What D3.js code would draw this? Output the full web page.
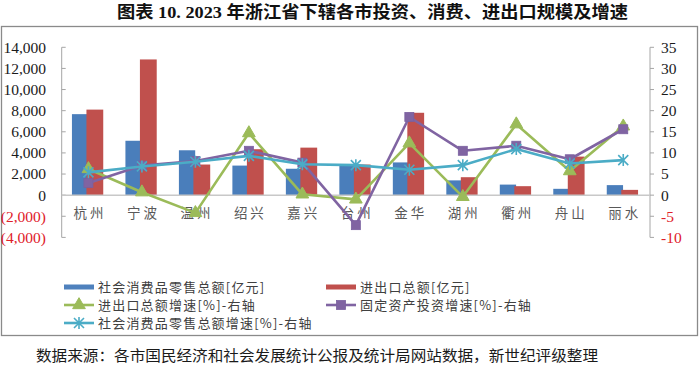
<!DOCTYPE html>
<html><head><meta charset="utf-8">
<script src="https://cdn.jsdelivr.net/npm/d3@7"></script>
<style>
html,body{margin:0;padding:0;background:#fff;}
svg{display:block;}
</style></head>
<body>
<svg id="c" width="700" height="368"></svg>
<script>
const categories = ["杭州","宁波","温州","绍兴","嘉兴","台州","金华","湖州","衢州","舟山","丽水"];
const retailSales = [7670, 5150, 4250, 2800, 2500, 2800, 3100, 1400, 1000, 600, 950];
const tradeTotal = [8100, 12850, 2900, 4350, 4500, 2900, 7800, 1700, 850, 3650, 500];
const tradeGrowth = [6.2, 0.7, -4.2, 14.7, 0.2, -1.0, 12.3, -0.4, 16.8, 5.7, 16.3];
const investGrowth = [2.9, 7.0, 8.1, 10.5, 7.7, -7.1, 18.5, 10.5, 11.7, 8.5, 15.6];
const retailGrowth = [5.4, 6.8, 7.9, 9.3, 7.3, 7.1, 6.0, 7.1, 10.9, 7.5, 8.3];
const leftTicks = [-4000,-2000,0,2000,4000,6000,8000,10000,12000,14000];
const rightTicks = [-10,-5,0,5,10,15,20,25,30,35];
const titleText = "图表 10. 2023 年浙江省下辖各市投资、消费、进出口规模及增速";
const sourceText = "数据来源：各市国民经济和社会发展统计公报及统计局网站数据，新世纪评级整理";
const legendItems = [
  {name:"社会消费品零售总额[亿元]", type:"bar", color:"#4F81BD"},
  {name:"进出口总额[亿元]", type:"bar", color:"#C0504D"},
  {name:"进出口总额增速[%]-右轴", type:"tri", color:"#9BBB59"},
  {name:"固定资产投资增速[%]-右轴", type:"sq", color:"#8064A2"},
  {name:"社会消费品零售总额增速[%]-右轴", type:"star", color:"#4BACC6"}
];

const svg = d3.select("#c");
const X0 = 61.7, X1 = 650, YT = 47.3, YB = 237.4;
const x = d3.scaleBand().domain(categories).range([X0, X1]).padding(0);
const yL = d3.scaleLinear().domain([-4000, 14000]).range([YB, YT]);
const yR = d3.scaleLinear().domain([-10, 35]).range([YB, YT]);
const serif = "'Liberation Serif','Noto Sans CJK SC',serif";
const cjk = "'Noto Sans CJK SC','Liberation Serif',sans-serif";

// Title
const title = svg.append("text").attr("x", 117).attr("y", 18)
  .attr("font-family", serif).attr("font-weight", "bold").attr("font-size", 17)
  .attr("fill", "#111").text(titleText);
{
  const w = title.node().getComputedTextLength();
  title.attr("textLength", 511).attr("lengthAdjust", "spacingAndGlyphs");
}

// Frame
svg.append("rect").attr("x", 1.5).attr("y", 26.5).attr("width", 696).attr("height", 309)
  .attr("fill", "none").attr("stroke", "#8a8a8a").attr("stroke-width", 1.3);

// Left axis
const gL = svg.append("g");
gL.append("line").attr("x1", X0).attr("x2", X0).attr("y1", YT).attr("y2", YB)
  .attr("stroke", "#a6a6a6").attr("stroke-width", 1);
gL.selectAll("line.t").data(leftTicks).join("line").attr("class","t")
  .attr("x1", X0).attr("x2", X0 + 4).attr("y1", d => yL(d)).attr("y2", d => yL(d))
  .attr("stroke", "#a6a6a6");
const fmtL = d => d < 0 ? "(" + d3.format(",")(-d) + ")" : d3.format(",")(d);
gL.selectAll("text").data(leftTicks).join("text")
  .attr("x", 46).attr("y", d => yL(d)).attr("dy", "0.35em")
  .attr("text-anchor", "end").attr("font-family", serif).attr("font-size", 15.5)
  .attr("fill", d => d < 0 ? "#E0202A" : "#1a1a1a").text(fmtL);

// Right axis
const gR = svg.append("g");
gR.append("line").attr("x1", X1).attr("x2", X1).attr("y1", YT).attr("y2", YB)
  .attr("stroke", "#a6a6a6");
gR.selectAll("line.t").data(rightTicks).join("line").attr("class","t")
  .attr("x1", X1).attr("x2", X1 + 4).attr("y1", d => yR(d)).attr("y2", d => yR(d))
  .attr("stroke", "#a6a6a6");
gR.selectAll("text").data(rightTicks).join("text")
  .attr("x", 661).attr("y", d => yR(d)).attr("dy", "0.35em")
  .attr("text-anchor", "start").attr("font-family", serif).attr("font-size", 15.5)
  .attr("fill", d => d < 0 ? "#E0202A" : "#1a1a1a").text(d => d);

// Bars
const bw = 16.3;
const cx = c => x(c) + x.bandwidth() / 2;
svg.append("g").selectAll("rect").data(categories).join("rect")
  .attr("x", (c) => cx(c) - 16.5).attr("width", bw)
  .attr("y", (c, i) => yL(Math.max(0, retailSales[i])))
  .attr("height", (c, i) => Math.abs(yL(retailSales[i]) - yL(0)))
  .attr("fill", "#4A7EBB");
svg.append("g").selectAll("rect").data(categories).join("rect")
  .attr("x", (c) => cx(c) - 2).attr("width", bw + 0.5)
  .attr("y", (c, i) => yL(Math.max(0, tradeTotal[i])))
  .attr("height", (c, i) => Math.abs(yL(tradeTotal[i]) - yL(0)))
  .attr("fill", "#C0504D");

// Zero line
svg.append("line").attr("x1", X0).attr("x2", X1).attr("y1", yL(0)).attr("y2", yL(0))
  .attr("stroke", "#c8c8c8").attr("stroke-width", 1.5);

// Category labels
svg.append("g").selectAll("text").data(categories).join("text")
  .attr("x", c => cx(c) + 1.5).attr("y", 218)
  .attr("text-anchor", "middle").attr("font-family", cjk).attr("font-size", 13.5)
  .attr("letter-spacing", 3).attr("fill", "#595959").text(c => c);

// Marker drawers
function marker(g, type, color, px, py) {
  if (type === "tri") {
    g.append("path").attr("d", d3.symbol(d3.symbolTriangle, 70)())
      .attr("transform", `translate(${px},${py})`).attr("fill", color).attr("stroke", color);
  } else if (type === "sq") {
    g.append("rect").attr("x", px - 4.5).attr("y", py - 4.5).attr("width", 9).attr("height", 9)
      .attr("fill", color).attr("stroke", "#7a60a0").attr("stroke-width", 0.8);
  } else {
    const r = 5;
    const p = `M${px-r},${py-r}L${px+r},${py+r}M${px-r},${py+r}L${px+r},${py-r}M${px},${py-r-1}L${px},${py+r+1}`;
    g.append("path").attr("d", p).attr("stroke", color).attr("stroke-width", 1.6).attr("fill", "none");
  }
}

const lines = [
  {data: tradeGrowth, type: "tri", color: "#9BBB59"},
  {data: investGrowth, type: "sq", color: "#8064A2"},
  {data: retailGrowth, type: "star", color: "#4BACC6"}
];
const lineGen = d3.line().x(d => d[0]).y(d => d[1]);
lines.forEach(s => {
  const pts = categories.map((c, i) => [cx(c), yR(s.data[i])]);
  const g = svg.append("g");
  g.append("path").attr("d", lineGen(pts)).attr("fill", "none")
    .attr("stroke", s.color).attr("stroke-width", 2.6).attr("stroke-linejoin", "round");
  pts.forEach(p => marker(g, s.type, s.color, p[0], p[1]));
});

// Legend
const legPos = [[64, 287], [326, 287], [64, 305], [326, 305], [64, 323]];
legendItems.forEach((it, i) => {
  const [lx, ly] = legPos[i];
  const g = svg.append("g");
  if (it.type === "bar") {
    g.append("rect").attr("x", lx).attr("y", ly - 2.5).attr("width", 30).attr("height", 5).attr("fill", it.color);
  } else {
    g.append("line").attr("x1", lx).attr("x2", lx + 30).attr("y1", ly).attr("y2", ly)
      .attr("stroke", it.color).attr("stroke-width", 2.6);
    marker(g, it.type, it.color, lx + 15, ly);
  }
  g.append("text").attr("x", lx + 34).attr("y", ly).attr("dy", "0.36em")
    .attr("font-family", cjk).attr("font-size", 13).attr("letter-spacing", 1.2)
    .attr("fill", "#404040").text(it.name);
});

// Source
svg.append("text").attr("x", 36).attr("y", 361)
  .attr("font-family", cjk).attr("font-size", 15).attr("fill", "#1a1a1a")
  .attr("textLength", 562).attr("lengthAdjust", "spacingAndGlyphs")
  .text(sourceText);
</script>
</body></html>
